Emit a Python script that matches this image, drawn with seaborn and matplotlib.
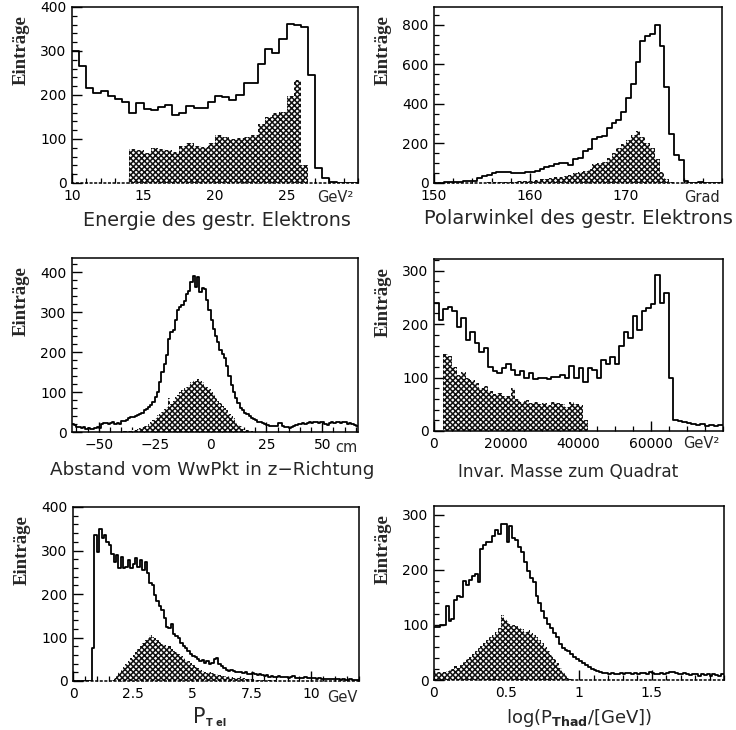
import numpy as np
import pandas as pd
import matplotlib
matplotlib.use("Agg")
import matplotlib.pyplot as plt
from matplotlib.ticker import MultipleLocator
import seaborn as sns

# ---------------- data ----------------
# Panel 1: Energie des gestreuten Elektrons (GeV^2), bins of 0.5 from 10
energie_lo, energie_w = 10.0, 0.5
energie_all = [300, 265, 215, 205, 210, 197, 190, 185, 158, 182,
               168, 166, 172, 177, 155, 158, 175, 170, 170, 183,
               198, 195, 188, 200, 228, 228, 270, 305, 295, 328,
               362, 360, 355, 245, 35, 12, 3, 1, 0, 1]
energie_sig_lo = 14.0
energie_sig = [78, 75, 68, 80, 78, 75, 70, 85, 90, 85,
               82, 90, 110, 105, 100, 102, 105, 110, 135, 150,
               158, 162, 198, 235, 40]

# Panel 2: Polarwinkel (Grad), bins of 0.5 from 150
polar_lo, polar_w = 150.0, 0.5
polar_all = [2, 2, 3, 4, 5, 6, 8, 9, 12, 25,
             34, 40, 50, 56, 56, 54, 51, 52, 52, 56,
             58, 62, 70, 80, 88, 95, 102, 100, 90, 120,
             128, 160, 170, 220, 232, 240, 280, 305, 320, 360,
             430, 500, 610, 720, 742, 755, 800, 695, 485, 250,
             140, 118, 10, 2, 0, 3, 0, 0, 0, 0]
polar_sig_lo = 155.0
polar_sig = [2, 3, 3, 4, 5, 6, 7, 8, 9, 10,
             12, 14, 18, 20, 25, 28, 30, 35, 42, 50,
             55, 62, 70, 95, 100, 108, 125, 150, 175, 195,
             215, 245, 265, 235, 200, 178, 120, 55, 20, 5]

# Panel 3: Abstand vom WwPkt in z-Richtung (cm), bins of 1 from -62
abst_lo, abst_w = -62.0, 1.0
abst_all = [20, 18, 12, 12, 10, 12, 8, 10, 8, 8,
            10, 12, 10, 20, 22, 22, 20, 22, 24, 20,
            22, 20, 28, 28, 30, 36, 38, 38, 40, 42,
            45, 48, 55, 58, 62, 68, 75, 88, 100, 125,
            150, 170, 192, 232, 250, 256, 280, 305, 312, 318,
            328, 345, 352, 375, 390, 362, 388, 350, 360, 358,
            330, 305, 280, 258, 240, 225, 206, 195, 185, 165,
            140, 118, 100, 85, 72, 60, 55, 48, 44, 40,
            35, 32, 29, 26, 24, 22, 20, 18, 15, 15,
            15, 14, 22, 22, 15, 12, 12, 10, 12, 15,
            18, 20, 20, 22, 20, 22, 25, 22, 25, 24,
            22, 25, 25, 20, 18, 22, 25, 22, 26, 25,
            22, 25, 25, 20, 22, 20, 18, 15]
abst_sig_lo = -40.0
abst_sig = [1, 2, 2, 3, 3, 4, 5, 7, 9, 12,
            14, 16, 20, 25, 30, 35, 42, 45, 50, 58,
            62, 85, 70, 78, 88, 92, 100, 105, 110, 112,
            118, 125, 130, 128, 132, 128, 125, 115, 112, 108,
            100, 95, 85, 78, 72, 65, 60, 55, 45, 40,
            35, 25, 18, 14, 8, 5, 4, 3, 2, 1]

# Panel 4: Invariante Masse zum Quadrat (GeV^2), bins of 1250 from 0
masse_lo, masse_w = 0.0, 1250.0
masse_all = [240, 207, 228, 232, 225, 195, 212, 170, 185, 165,
             148, 155, 120, 112, 108, 118, 125, 115, 105, 112,
             100, 108, 98, 100, 100, 98, 102, 102, 105, 100,
             122, 100, 118, 92, 118, 115, 100, 132, 125, 138,
             125, 160, 185, 175, 215, 190, 225, 230, 238, 292,
             240, 258, 100, 20, 18, 16, 15, 14, 12, 14,
             10, 12, 10, 12]
masse_sig_lo = 2500.0
masse_sig = [145, 140, 120, 105, 110, 100, 95, 90, 80, 85,
             75, 70, 72, 65, 65, 80, 60, 55, 58, 52,
             55, 50, 52, 48, 55, 52, 50, 45, 55, 50,
             48, 20]

# Panel 5: P_T el (GeV), bins of 0.1 from 0
ptel_lo, ptel_w = 0.0, 0.1
ptel_all = [0, 0, 0, 0, 0, 0, 0, 0, 77, 335,
            297, 350, 329, 335, 320, 312, 293, 274, 289, 259,
            286, 259, 263, 278, 259, 270, 282, 263, 278, 255,
            274, 248, 225, 221, 198, 183, 172, 164, 145, 125,
            122, 130, 108, 104, 98, 88, 80, 76, 70, 62,
            58, 55, 50, 45, 48, 42, 45, 40, 42, 50,
            52, 38, 35, 30, 26, 24, 25, 22, 20, 20,
            21, 18, 20, 17, 16, 18, 15, 14, 15, 13,
            12, 13, 10, 11, 10, 9, 11, 10, 9, 10,
            8, 9, 12, 8, 7, 8, 7, 9, 8, 6,
            7, 6, 5, 6, 5, 5, 4, 5, 4, 4,
            5, 4, 3, 4, 3, 3, 4, 3, 2, 3]
ptel_sig_lo = 1.6
ptel_sig = [3, 8, 14, 20, 27, 33, 40, 47, 54, 60,
            67, 74, 80, 87, 94, 100, 106, 102, 98, 94,
            90, 86, 82, 78, 80, 74, 70, 66, 62, 57,
            53, 49, 45, 41, 37, 33, 29, 26, 23, 20,
            18, 20, 18, 16, 15, 14, 12, 12, 10, 10,
            9, 8, 8, 7, 6, 6, 5, 5, 4, 4,
            3, 3, 3, 2, 2, 2, 2, 2, 2, 2]

# Panel 6: log(P_T had / GeV), bins of 0.02 from 0
pthad_lo, pthad_w = 0.0, 0.02
pthad_all = [97, 97, 100, 100, 135, 108, 110, 145, 152, 150,
             180, 172, 182, 188, 192, 178, 238, 245, 250, 250,
             262, 272, 265, 283, 283, 250, 280, 258, 255, 242,
             232, 215, 198, 185, 178, 152, 140, 125, 112, 102,
             94, 86, 78, 66, 58, 55, 52, 48, 42, 38,
             35, 30, 27, 24, 20, 18, 16, 14, 12, 12,
             10, 12, 10, 11, 12, 10, 13, 12, 10, 12,
             11, 13, 12, 10, 14, 12, 10, 11, 12, 10,
             12, 14, 15, 12, 11, 10, 12, 10, 9, 11,
             10, 8, 10, 9, 11, 8, 10, 9, 8, 10]
pthad_sig_lo = 0.0
pthad_sig = [12, 15, 14, 15, 16, 18, 20, 25, 22, 28,
             32, 38, 42, 48, 52, 58, 62, 68, 72, 78,
             82, 88, 95, 118, 110, 108, 102, 100, 98, 95,
             92, 88, 90, 85, 82, 78, 72, 68, 60, 52,
             45, 38, 30, 22, 15, 8, 4, 2]

# ---------------- style ----------------
sns.set_theme(style="ticks")
plt.rcParams['font.family'] = ['DejaVu Sans']
plt.rcParams['hatch.linewidth'] = 1.1
plt.rcParams['axes.edgecolor'] = 'black'
plt.rcParams['axes.linewidth'] = 1.1
plt.rcParams['xtick.color'] = 'black'
plt.rcParams['ytick.color'] = 'black'

W, H = 736, 730
fig = plt.figure(figsize=(W / 100, H / 100), dpi=100)


def hist(ax, lo, w, counts, filled):
    counts = np.asarray(counts, dtype=float)
    edges = lo + w * np.arange(len(counts) + 1)
    centers = 0.5 * (edges[:-1] + edges[1:])
    df = pd.DataFrame({"x": centers, "n": counts})
    if filled:
        n0 = len(ax.collections)
        sns.histplot(data=df, x="x", weights="n", bins=list(edges),
                     element="step", fill=True, color="black", alpha=1, ax=ax)
        for coll in ax.collections[n0:]:
            coll.set_facecolor("white")
            coll.set_edgecolor("#111111")
            coll.set_linewidth(0)
            coll.set_hatch("xxxxxx")
    else:
        sns.histplot(data=df, x="x", weights="n", bins=list(edges),
                     element="step", fill=False, color="black",
                     linewidth=1.3, ax=ax)


def panel(box, lo, w, counts, slo, sig, xlim, ylim, xticks, xticklabels,
          xminor, ymajor, yminor, unit, unit_dy, unit_dx, xlabel, xl_dy,
          xl_dx=0, dotted=False, xl_size=12):
    x0, y0, x1, y1 = box
    aw, ah = x1 - x0, y1 - y0
    ax = fig.add_axes([x0 / W, 1 - y1 / H, aw / W, ah / H])
    hist(ax, slo, w, sig, True)
    hist(ax, lo, w, counts, False)
    ax.set_xlim(*xlim)
    ax.set_ylim(*ylim)
    ax.set_xticks(xticks)
    ax.set_xticklabels(xticklabels)
    ax.xaxis.set_minor_locator(MultipleLocator(xminor))
    ax.yaxis.set_major_locator(MultipleLocator(ymajor))
    ax.yaxis.set_minor_locator(MultipleLocator(yminor))
    ax.tick_params(which="major", direction="in", length=7, width=1.0,
                   labelsize=10, pad=4, top=False, right=False)
    ax.tick_params(which="minor", direction="in", length=3.5, width=0.9,
                   top=False, right=False)
    ax.set_xlabel("")
    ax.set_ylabel("")
    for s in ax.spines.values():
        s.set_linewidth(1.1)
        s.set_color("black")
    if dotted:
        ax.spines["bottom"].set_linestyle((0, (1, 2)))
    ax.text(-51 / aw, 1 - 8 / ah, "Einträge", transform=ax.transAxes,
            rotation=90, ha="center", va="top", fontsize=13.5,
            fontweight="bold", family=["Liberation Serif", "DejaVu Serif"])
    if unit:
        ax.text(1 - unit_dx / aw, -unit_dy / ah, unit, transform=ax.transAxes,
                ha="right", va="center", fontsize=10.5)
    if xlabel:
        ax.text(0.5 + xl_dx / aw, -xl_dy / ah, xlabel, transform=ax.transAxes,
                ha="center", va="center", fontsize=xl_size)
    return ax


panel((72, 7, 358, 183), energie_lo, energie_w, energie_all,
      energie_sig_lo, energie_sig, (10, 30), (0, 400),
      [10, 15, 20, 25], ["10", "15", "20", "25"], 1, 100, 20,
      "GeV²", 15, 5, "Energie des gestr. Elektrons", 37, 2, dotted=True,
      xl_size=13.8)

panel((434, 7, 722, 183), polar_lo, polar_w, polar_all,
      polar_sig_lo, polar_sig, (150, 180), (0, 890),
      [150, 160, 170], ["150", "160", "170"], 2, 200, 50,
      "Grad", 14, 2, "Polarwinkel des gestr. Elektrons", 35, 0, dotted=True,
      xl_size=14)

panel((72, 258, 358, 432), abst_lo, abst_w, abst_all,
      abst_sig_lo, abst_sig, (-62, 66), (0, 435),
      [-50, -25, 0, 25, 50], ["−50", "−25", "0", "25", "50"], 5, 100, 20,
      "cm", 16, 0, "Abstand vom WwPkt in z−Richtung", 38, -3, xl_size=13.2)

panel((434, 259, 723, 431), masse_lo, masse_w, masse_all,
      masse_sig_lo, masse_sig, (0, 80000), (0, 322),
      [0, 20000, 40000, 60000], ["0", "20000", "40000", "60000"], 5000, 100, 20,
      "GeV²", 12, 3, "Invar. Masse zum Quadrat", 41, -10, xl_size=12.2)

ax5 = panel((73, 507, 359, 681), ptel_lo, ptel_w, ptel_all,
            ptel_sig_lo, ptel_sig, (0, 12), (0, 400),
            [0, 2.5, 5, 7.5, 10], ["0", "2.5", "5", "7.5", "10"], 0.5, 100, 20,
            "GeV", 16, 1, None, 37, dotted=True)
# P with a small bold subscript "T el", as in the reference
ax5.text(126 / 286, -36 / 174, "P", transform=ax5.transAxes,
         ha="center", va="center", fontsize=15)
ax5.text(133 / 286, -42 / 174, "T el", transform=ax5.transAxes,
         ha="left", va="center", fontsize=7, fontweight="bold")

panel((434, 506, 724, 680), pthad_lo, pthad_w, pthad_all,
      pthad_sig_lo, pthad_sig, (0, 2), (0, 316),
      [0, 0.5, 1, 1.5], ["0", "0.5", "1", "1.5"], 0.1, 100, 20,
      None, 0, 0, r"log(P$_{\mathbf{Thad}}$/[GeV])", 38, 0, dotted=True,
      xl_size=13)

fig.savefig("out.png", dpi=100)
